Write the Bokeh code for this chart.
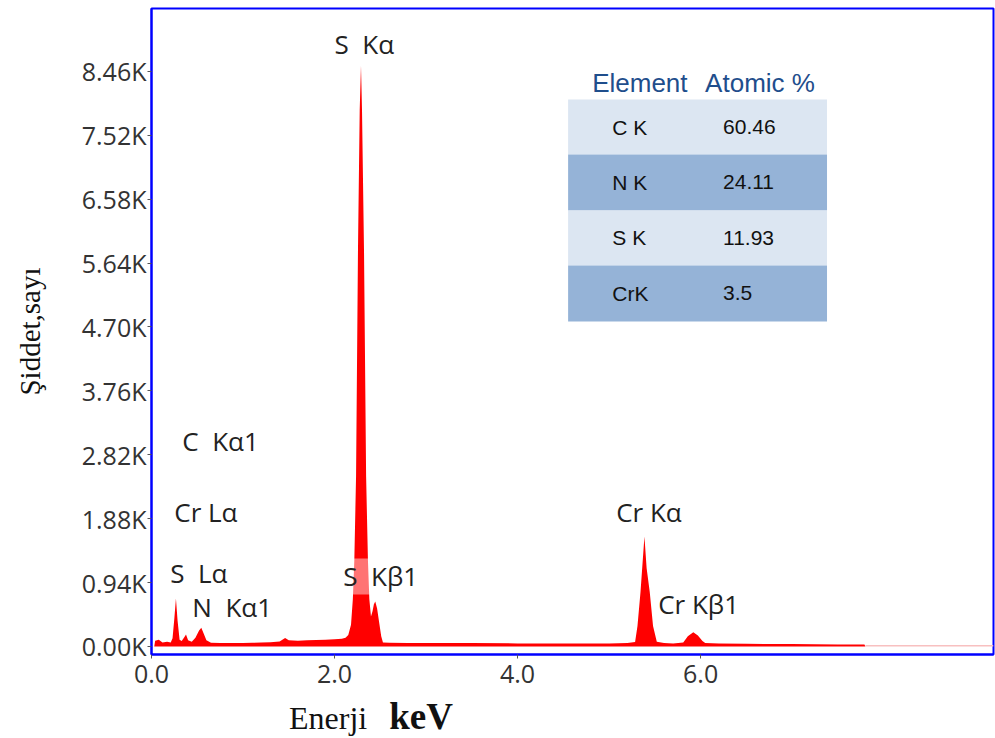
from bokeh.plotting import figure
from bokeh.models import Range1d, FixedTicker, Label, ColumnDataSource, Div
from bokeh.layouts import column
from bokeh.core.properties import value
from bokeh.embed import file_html
from bokeh.resources import INLINE

NB = "\u00a0"

# ---- spectrum (energy keV, counts) ----
energy = [0.03, 0.04, 0.08, 0.12, 0.17, 0.21, 0.23, 0.25, 0.267, 0.285, 0.307, 0.33,
          0.36, 0.377, 0.40, 0.44, 0.48, 0.52, 0.544, 0.57, 0.60, 0.65, 0.75, 0.9,
          1.0, 1.1, 1.2, 1.3, 1.4, 1.46, 1.5, 1.6, 1.7, 1.8, 1.9, 2.0, 2.08, 2.12,
          2.15, 2.18, 2.20, 2.216, 2.235, 2.256, 2.275, 2.289, 2.30, 2.322, 2.345,
          2.365, 2.38, 2.398, 2.415, 2.43, 2.445, 2.465, 2.49, 2.51, 2.529, 2.6,
          2.8, 3.0, 3.5, 4.0, 4.5, 5.0, 5.2, 5.284, 5.31, 5.343, 5.386, 5.41, 5.444,
          5.48, 5.521, 5.6, 5.7, 5.81, 5.86, 5.92, 5.97, 6.02, 6.05, 6.2, 6.5, 7.0,
          7.5, 7.79, 7.80]
counts = [0, 85, 100, 60, 70, 60, 120, 420, 706, 380, 100, 80,
          140, 176, 90, 70, 130, 235, 275, 190, 90, 55, 50, 50,
          52, 55, 58, 62, 75, 125, 90, 85, 90, 95, 100, 105, 115, 130,
          170, 320, 700, 1265, 2500, 5825, 7900, 8547, 7900, 5825, 2500,
          1265, 700, 441, 520, 620, 662, 560, 330, 150, 60, 55,
          50, 50, 50, 45, 45, 45, 50, 65, 300, 800, 1618, 1150, 800,
          300, 70, 50, 45, 60, 150, 210, 160, 80, 50, 45, 40, 35,
          30, 30, 0]
tail_energy = [7.80, 9.2]
tail_counts = [12, 12]

y_ticks = [0, 940, 1880, 2820, 3760, 4700, 5640, 6580, 7520, 8460]
y_tick_labels = ["0.00K", "0.94K", "1.88K", "2.82K", "3.76K", "4.70K",
                 "5.64K", "6.58K", "7.52K", "8.46K"]
x_ticks = [0, 2, 4, 6]
x_tick_labels = ["0.0", "2.0", "4.0", "6.0"]

# peak labels: text, energy, counts (anchor left-middle)
peak_text = ["S  K\u03b1", "C  K\u03b11", "Cr L\u03b1", "S  L\u03b1", "N  K\u03b11",
             "S  K\u03b21", "Cr K\u03b1", "Cr K\u03b21"]
peak_x = [2.0, 0.336, 0.249, 0.205, 0.446, 2.095, 5.077, 5.536]
peak_y = [8870, 3030, 1972, 1074, 574, 1030, 1972, 618]

# table
elements = ["C K", "N K", "S K", "CrK"]
atomic = ["60.46", "24.11", "11.93", "3.5"]

p = figure(width=995, height=700, output_backend="svg", toolbar_location=None,
           x_range=Range1d(0, 9.2), y_range=Range1d(-118, 9385),
           min_border_left=151, min_border_right=2, min_border_top=8,
           min_border_bottom=46)
p.background_fill_color = "white"
p.border_fill_color = "white"
p.outline_line_color = "#0000ff"
p.outline_line_width = 2
p.xgrid.visible = False
p.ygrid.visible = False

for ax in (p.xaxis[0], p.yaxis[0]):
    ax.axis_line_color = "#0000ff"
    ax.axis_line_width = 2
    ax.major_tick_line_color = "#555555"
    ax.major_tick_out = 4
    ax.major_tick_in = 0
    ax.minor_tick_line_color = None
    ax.major_label_text_font = "Open Sans"
    ax.major_label_text_font_size = "25px"
    ax.major_label_text_color = "#333333"

p.yaxis.ticker = FixedTicker(ticks=y_ticks)
p.yaxis.major_label_overrides = {t: l for t, l in zip(y_ticks, y_tick_labels)}
p.yaxis.major_label_standoff = 1
p.yaxis.axis_label = "\u015eiddet,say\u0131"
p.yaxis.axis_label_text_font = "Liberation Serif"
p.yaxis.axis_label_text_font_style = "normal"
p.yaxis.axis_label_text_font_size = "29px"
p.yaxis.axis_label_text_color = "#111111"
p.yaxis.axis_label_standoff = 33

p.xaxis.ticker = FixedTicker(ticks=x_ticks)
p.xaxis.major_label_overrides = {t: l for t, l in zip(x_ticks, x_tick_labels)}
p.xaxis.major_label_standoff = 6

src = ColumnDataSource(dict(e=energy, c=counts))
p.varea(x="e", y1=0, y2="c", source=src, fill_color="#ff0000")
p.line(tail_energy, tail_counts, line_color="#f8c0c0", line_width=1.5)

# table
row_top = [8046, 7237, 6414, 5605]
row_bot = [7237, 6414, 5605, 4781]
row_col = ["#dce6f2", "#95b3d7", "#dce6f2", "#95b3d7"]
p.quad(left=4.552, right=7.381, top=row_top, bottom=row_bot, fill_color=row_col,
       line_color=None)
row_mid = [(a + b) / 2 for a, b in zip(row_top, row_bot)]
tsrc = ColumnDataSource(dict(el=[e.replace(" ", NB) for e in elements], at=atomic, y=row_mid))
p.text(x=5.035, y="y", text="el", source=tsrc, text_font=value("Liberation Sans"),
       text_font_size="21px", text_baseline="middle", text_color="#111111")
p.text(x=6.245, y="y", text="at", source=tsrc, text_font=value("Liberation Sans"),
       text_font_size="21px", text_baseline="middle", text_color="#111111")
p.add_layout(Label(x=4.815, y=8282, text="Element", text_font="Liberation Sans",
                   text_font_size="26px", text_baseline="middle", text_color="#1f4e8c"))
p.add_layout(Label(x=6.049, y=8282, text="Atomic" + NB + "%", text_font="Liberation Sans",
                   text_font_size="26px", text_baseline="middle", text_color="#1f4e8c"))

# peak labels
for t, x, y in zip(peak_text, peak_x, peak_y):
    kw = {}
    if t == "S  K\u03b21":
        kw = dict(background_fill_color="white", background_fill_alpha=0.45)
    p.add_layout(Label(x=x, y=y, text=t.replace(" ", NB), text_font="Open Sans",
                       text_font_size="26px", text_baseline="middle",
                       text_color="#222222", **kw))

# x-axis title (mixed weight) below the figure
title_html = ('<span style="font-family:\'Liberation Serif\';font-size:32px;">Enerji</span>'
              '<span style="font-family:\'Liberation Serif\';font-size:37px;'
              'font-weight:bold;margin-left:22px;">keV</span>')
div = Div(text=title_html, width=995, height=38, margin=(0, 0, 0, 0),
          styles={"padding-left": "289px", "line-height": "34px", "color": "#111111"})

open("out.html", "w").write(file_html(column(p, div, spacing=0), INLINE))
